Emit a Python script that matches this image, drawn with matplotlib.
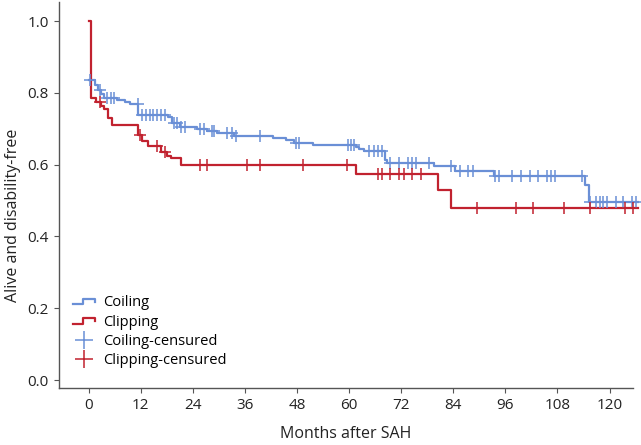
import numpy as np
import matplotlib
matplotlib.use("Agg")
import matplotlib.pyplot as plt
from matplotlib.lines import Line2D
from matplotlib.legend_handler import HandlerBase

plt.rcParams['font.family'] = ['Open Sans', 'DejaVu Sans']

# Kaplan-Meier steps: (time of drop, level after drop)
coil_start = 0.836
coil_times = [1.4, 2.1, 2.9, 3.6, 6.5, 8.5, 9.6, 11.5, 18.3, 19.2, 21.0, 25.0,
              27.4, 29.6, 33.5, 42.6, 45.4, 47.3, 51.6, 61.6, 62.4, 63.5, 68.3,
              68.8, 79.5, 84.5, 93.4, 114.3, 115.3]
coil_surv = [0.822, 0.808, 0.796, 0.786, 0.780, 0.775, 0.770, 0.738, 0.733,
             0.715, 0.706, 0.700, 0.694, 0.687, 0.680, 0.675, 0.669, 0.661,
             0.656, 0.650, 0.645, 0.638, 0.613, 0.606, 0.596, 0.582, 0.568,
             0.543, 0.495]
coil_cens = [0.4, 2.7, 4.2, 5.2, 5.8, 11.3, 12.3, 13.3, 14.1, 14.9, 15.8, 16.7,
             17.7, 19.6, 20.4, 21.3, 22.3, 25.6, 26.5, 28.5, 29.0, 31.9, 33.1,
             33.9, 39.5, 47.7, 48.5, 59.7, 60.4, 61.2, 64.7, 65.7, 66.6, 67.5,
             69.5, 71.6, 73.5, 74.5, 75.4, 78.5, 83.5, 85.6, 87.5, 88.5, 93.7,
             94.5, 97.5, 99.5, 101.6, 103.6, 105.6, 106.4, 107.4, 113.6, 115.5,
             116.8, 117.8, 118.6, 119.5, 121.5, 123.2, 125.1, 126.2]

clip_start = 1.0
clip_times = [0.6, 1.8, 2.9, 3.65, 4.6, 5.5, 11.5, 12.3, 13.6, 16.8, 18.0,
              18.9, 21.3, 61.6, 80.4, 83.5]
clip_surv = [0.785, 0.775, 0.763, 0.754, 0.729, 0.710, 0.682, 0.667, 0.652,
             0.636, 0.625, 0.618, 0.600, 0.575, 0.529, 0.480]
clip_cens = [2.7, 11.8, 15.8, 17.7, 25.6, 27.3, 36.4, 39.6, 49.5, 59.5, 66.6,
             67.5, 69.5, 71.6, 72.6, 74.5, 76.6, 89.5, 98.5, 102.4, 109.4,
             115.5, 123.6, 125.5]

t_end = 126.5
x_ticks = list(range(0, 121, 12))
y_ticks = [0.0, 0.2, 0.4, 0.6, 0.8, 1.0]

blue = '#6a8fd6'
red = '#c1222f'


class HandlerStep(HandlerBase):
    def create_artists(self, legend, orig_handle, xdescent, ydescent,
                       width, height, fontsize, trans):
        x0 = -xdescent
        xs = [x0, x0 + 0.42 * width, x0 + 0.42 * width, x0 + 0.95 * width, x0 + 0.95 * width]
        ys = [0.2 * height, 0.2 * height, 0.75 * height, 0.75 * height, 0.4 * height]
        ln = Line2D(xs, ys, color=orig_handle.get_color(),
                    linewidth=orig_handle.get_linewidth(), transform=trans)
        return [ln]


def step_xy(start, times, surv):
    x = np.r_[0.0, times, t_end]
    y = np.r_[start, surv, surv[-1]]
    return x, y


def level_at(start, times, surv, t):
    lv = np.r_[start, surv]
    idx = np.searchsorted(times, t, side='right')
    return lv[idx]


fig = plt.figure(figsize=(6.41, 4.45), dpi=100)
ax = fig.add_axes([59 / 641, 57 / 445, 574 / 641, 386 / 445])

cx, cy = step_xy(coil_start, coil_times, coil_surv)
kx, ky = step_xy(clip_start, clip_times, clip_surv)
l_coil, = ax.step(cx, cy, where='post', color=blue, lw=1.6, clip_on=False)
l_clip, = ax.step(kx, ky, where='post', color=red, lw=1.6, clip_on=False)

m_coil, = ax.plot(coil_cens, level_at(coil_start, coil_times, coil_surv, coil_cens),
                  ls='none', marker='+', ms=9, mew=1.1, color=blue, clip_on=False)
m_clip, = ax.plot(clip_cens, level_at(clip_start, clip_times, clip_surv, clip_cens),
                  ls='none', marker='+', ms=9, mew=1.1, color=red, clip_on=False)

ax.set_xlim(-6.8, 125.4)
ax.set_ylim(-0.022, 1.053)
ax.set_xticks(x_ticks)
ax.set_yticks(y_ticks)
ax.set_yticklabels([f'{v:.1f}' for v in y_ticks])
for s in ['top', 'right']:
    ax.spines[s].set_visible(False)
for s in ['left', 'bottom']:
    ax.spines[s].set_color('#555555')
    ax.spines[s].set_linewidth(1.0)
ax.tick_params(colors='#555555', labelcolor='#222222', labelsize=11, length=3.5,
               width=0.8, pad=4)

ax.set_xlabel('Months after SAH', fontsize=11.5, color='#222222', labelpad=9)
ax.set_ylabel('Alive and disability-free', fontsize=11.5, color='#222222')
ax.yaxis.set_label_coords(-0.067, 0.447)

ax.legend([l_coil, l_clip, m_coil, m_clip],
          ['Coiling', 'Clipping', 'Coiling-censured', 'Clipping-censured'],
          handler_map={l_coil: HandlerStep(), l_clip: HandlerStep()},
          loc='lower left', bbox_to_anchor=(0.024, 0.051), frameon=False,
          fontsize=10.5, handlelength=1.6, handletextpad=0.5, markerscale=1.4,
          borderpad=0, borderaxespad=0, labelspacing=0.3)

fig.savefig('out.png', dpi=100)
